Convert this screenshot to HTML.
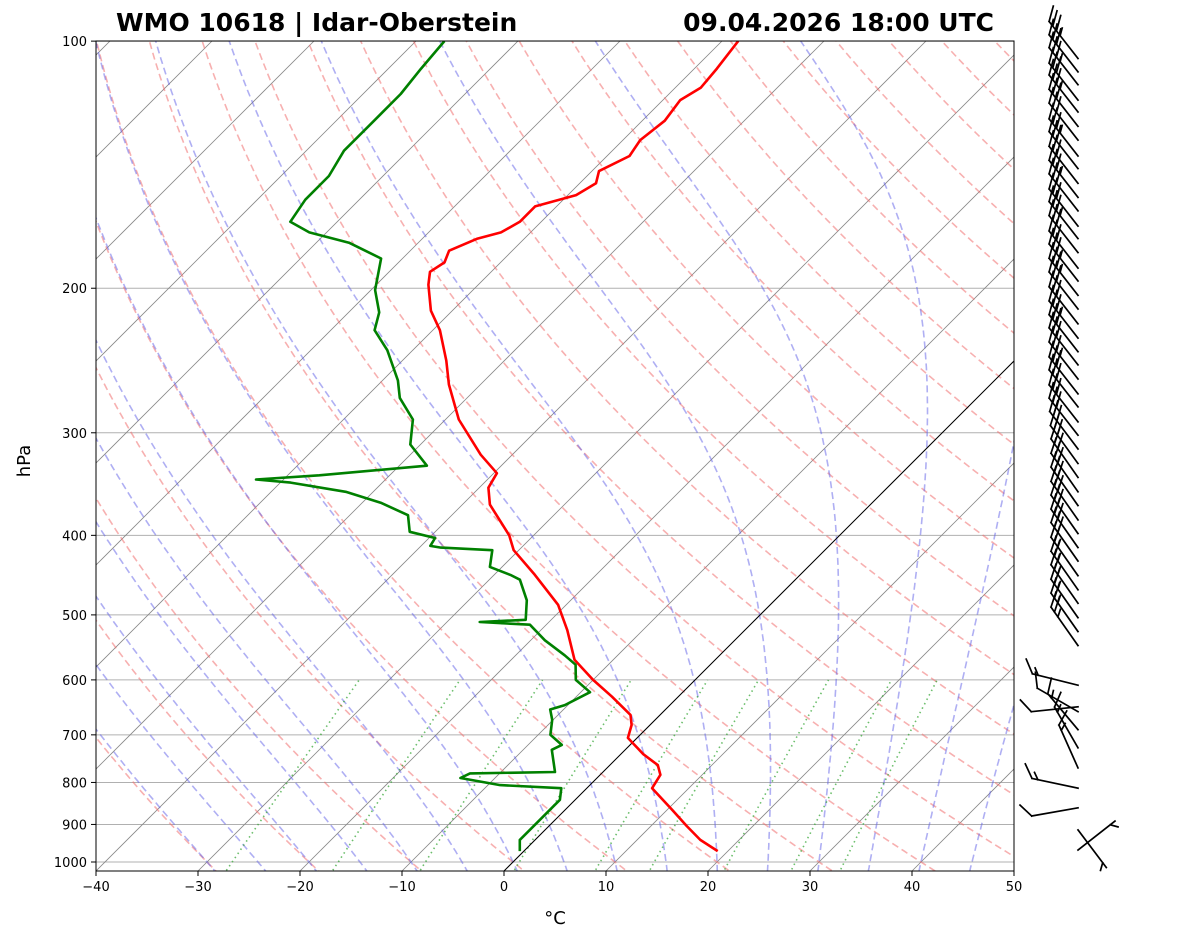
<!DOCTYPE html>
<html><head><meta charset="utf-8">
<style>
html,body{margin:0;padding:0;background:#fff;}
svg{display:block;font-family:"DejaVu Sans","Liberation Sans",sans-serif;}
</style></head>
<body>
<svg id="chart" width="1181" height="941" viewBox="0 0 1181 941" xmlns="http://www.w3.org/2000/svg">
<defs><clipPath id="clip"><rect x="96" y="41" width="918" height="830"/></clipPath></defs>
<rect width="1181" height="941" fill="#fff"/>
<g id="bg" clip-path="url(#clip)"></g>
<g id="data" clip-path="url(#clip)"></g>
<rect x="96" y="41" width="918" height="830" fill="none" stroke="#000" stroke-width="1"/>
<g id="axes"></g>
<g id="barbs" stroke="#000" stroke-width="1.7" fill="none" stroke-linecap="square"></g>
<text x="116" y="31" font-size="25" font-weight="bold">WMO 10618 | Idar-Oberstein</text>
<text x="994" y="31" font-size="25" font-weight="bold" text-anchor="end">09.04.2026 18:00 UTC</text>
<text x="0" y="0" font-size="18" text-anchor="middle" transform="translate(30,461) rotate(-90)">hPa</text>
<text x="555" y="924" font-size="18" text-anchor="middle">°C</text>
</svg>
<script>
const tempP = [970,940,904,864,813,783,762,739,706,681,662,629,600,567,522,486,447,417,400,367,350,336,319,289,262,245,225,213,198,191,186,180,174,171,166,159,154,149,144,138,132,125,118,114,108,100];
const tempT = [19.0,16.2,13.5,10.5,6.4,5.9,4.7,2.2,-0.9,-1.8,-2.9,-6.5,-10,-13.8,-17.4,-20.8,-26,-30.5,-32.4,-37.3,-39.1,-39.7,-43.1,-48.7,-53.1,-55.7,-59.3,-62.1,-64.9,-66,-65.5,-66.2,-64.6,-62.9,-62.1,-62.1,-59.2,-58.4,-59.3,-57.8,-58.3,-57.8,-58.3,-57.5,-57.8,-58.4];
const dewP = [970,940,914,876,840,813,806,790,780,777,730,720,700,671,652,644,621,600,575,560,537,514,510,507,480,453,447,437,417,414,412,403,396,378,365,354,345,342,338,329,310,289,272,259,238,225,214,201,184,176,171,166,156,146,136,125,116,108,100];
const dewT = [-0.4,-1.5,-1.5,-1.5,-1.5,-2.5,-8.8,-13.4,-12.9,-4.7,-7.2,-6.7,-8.8,-10.1,-11.3,-10.3,-9.1,-11.7,-13.2,-15.2,-18.6,-21.6,-26.8,-22.5,-24.3,-27,-28.4,-31.2,-32.6,-37.9,-39.1,-39.4,-42.5,-44.3,-48.2,-52.7,-59,-62.7,-56.9,-47.3,-51,-53.2,-56.6,-58.5,-62.5,-65.7,-67,-69.6,-72.1,-76.8,-81.7,-84.6,-85.3,-85.3,-86.3,-86.3,-86.3,-86.8,-87.2];
const barbP = [105,109,113,118,122,127,132,138,143,149,155,161,168,174,181,189,196,204,212,221,230,239,248,258,269,279,291,302,314,327,340,354,368,383,398,414,430,448,466,484,504,524,545,609,647,656,690,726,768,813,859,914,967];
const barbDir = [322,322,322,322,322,322,322,322,322,322,322,322,322,322,322,322,322,322,322,322,322,322,322,322,322,322,322,322,323,324,325,325,325,325,325,325,325,325,325,325,325,325,325,284,264,300,320,330,336,282,260,143,52];
const barbSpd = [35,30,35,30,35,30,30,35,30,30,35,30,30,35,30,30,35,35,30,30,35,30,30,35,30,30,30,30,30,30,30,30,30,30,30,30,30,25,25,25,25,25,25,15,10,10,15,15,15,15,10,5,5];
const xTicks = [-40,-30,-20,-10,0,10,20,30,40,50];
const pTicks = [1000,900,800,700,600,500,400,300,200,100];

const NS='http://www.w3.org/2000/svg';
function yP(p){return 862+356.5*Math.log(p/1000);}
function xT(T,p){return 96+(T+40)*10.2+(871-yP(p));}
function mk(tag,attrs,parent){const e=document.createElementNS(NS,tag);for(const k in attrs)e.setAttribute(k,attrs[k]);parent.appendChild(e);return e;}
const bg=document.getElementById('bg'),dg=document.getElementById('data'),ax=document.getElementById('axes'),bb=document.getElementById('barbs');
function pathFrom(pts){return pts.map((q,i)=>(i?'L':'M')+q[0].toFixed(1)+' '+q[1].toFixed(1)).join(' ');}
const levels=[];for(let p=1060;p>=95;p-=5)levels.push(p);

pTicks.forEach(p=>{
  const l=mk('line',{x1:96,x2:1014,y1:yP(p),y2:yP(p),stroke:'#b0b0b0','stroke-width':1},bg);
  
  
});
for(let T=-150;T<=50;T+=10){
  const l=mk('line',{x1:xT(T,1060),y1:yP(1060),x2:xT(T,95),y2:yP(95),stroke:'#888','stroke-width':0.8},bg);
  
  
}
for(let t0=-30;t0<=190;t0+=10){
  const th=t0+273.15;
  const pts=levels.map(p=>[xT(th*Math.pow(p/1000,0.2857)-273.15,p),yP(p)]);
  const e=mk('path',{d:pathFrom(pts),fill:'none',stroke:'#f07070','stroke-opacity':0.55,'stroke-width':1.6,'stroke-dasharray':'7,4'},bg);
  
  
}
function es(T){return 6.112*Math.exp(17.67*T/(T+243.5));}
function dTdp(Tk,p){const Rd=287.04,Lv=2.501e6,cp=1005.7,eps=0.622;const rs=eps*es(Tk-273.15)/(p-es(Tk-273.15));
  return (Rd*Tk+Lv*rs)/(cp+Lv*Lv*rs*eps/(Rd*Tk*Tk))/p;}
function moist(t0){
  const up=[],dn=[];let T=t0+273.15;
  for(let p=1000;p>=95;p-=1){if(p%5===0)up.push([p,T]);const k1=dTdp(T,p),k2=dTdp(T-0.5*k1,p-0.5);T-=k2;}
  T=t0+273.15;
  for(let p=1000;p<=1060;p+=1){if(p%5===0)dn.push([p,T]);const k1=dTdp(T,p),k2=dTdp(T+0.5*k1,p+0.5);T+=k2;}
  return dn.reverse().concat(up.slice(1));
}
for(let t0=-30;t0<=50;t0+=5){
  const pts=moist(t0).map(a=>[xT(a[1]-273.15,a[0]),yP(a[0])]);
  const e=mk('path',{d:pathFrom(pts),fill:'none',stroke:'#6060e8','stroke-opacity':0.5,'stroke-width':1.6,'stroke-dasharray':'7,4'},bg);
  
  
}
[0.0004,0.001,0.002,0.004,0.007,0.01,0.016,0.024,0.032].forEach(w=>{
  const pts=[];for(let p=1060;p>=600;p-=10){const e=p*w/(0.622+w);const L=Math.log(e/6.112);pts.push([xT(243.5*L/(17.67-L),p),yP(p)]);}
  const e=mk('path',{d:pathFrom(pts),fill:'none',stroke:'#3aa83a','stroke-opacity':0.75,'stroke-width':1.6,'stroke-dasharray':'1.5,3.5'},bg);
  
  
});
const z=mk('line',{x1:xT(0,1060),y1:yP(1060),x2:xT(0,95),y2:yP(95),stroke:'#000','stroke-width':1},bg);



const tl=mk('path',{d:pathFrom(tempP.map((p,i)=>[xT(tempT[i],p),yP(p)])),fill:'none',stroke:'#f00','stroke-width':2.6,'stroke-linejoin':'round'},dg);


const dl=mk('path',{d:pathFrom(dewP.map((p,i)=>[xT(dewT[i],p),yP(p)])),fill:'none',stroke:'#008000','stroke-width':2.6,'stroke-linejoin':'round'},dg);



xTicks.forEach(T=>{
  const x=96+(T+40)*10.2;
  const t=mk('line',{x1:x,x2:x,y1:871,y2:876,stroke:'#000','stroke-width':1},ax);
  
  
  const s=mk('text',{x:x,y:891,'font-size':13,'text-anchor':'middle'},ax);
  s.textContent=(T<0?'\u2212'+(-T):T);
  
  
});
pTicks.forEach(p=>{
  const y=yP(p);
  const t=mk('line',{x1:91,x2:96,y1:y,y2:y,stroke:'#000','stroke-width':1},ax);
  
  
  const s=mk('text',{x:87,y:y+5,'font-size':13,'text-anchor':'end'},ax);
  s.textContent=p;
  
  
});

barbP.forEach((p,i)=>{
  const bx=1078,by=yP(p);
  const a=barbDir[i]*Math.PI/180;const dx=Math.sin(a),dy=-Math.cos(a);
  const L=47,tx=bx+dx*L,ty=by+dy*L;
  const px=-dy,py=dx;
  const kx=0.8*px+0.6*dx,ky=0.8*py+0.6*dy;
  const H=16,S=6;
  let d='M'+bx.toFixed(1)+' '+by.toFixed(1)+' L'+tx.toFixed(1)+' '+ty.toFixed(1);
  let s=barbSpd[i],pos=0;
  while(s>=10){const qx=tx-dx*pos,qy=ty-dy*pos;d+=' M'+qx.toFixed(1)+' '+qy.toFixed(1)+' l'+(kx*H).toFixed(1)+' '+(ky*H).toFixed(1);pos+=S;s-=10;}
  if(s>=5){if(pos===0)pos=S;const qx=tx-dx*pos,qy=ty-dy*pos;d+=' M'+qx.toFixed(1)+' '+qy.toFixed(1)+' l'+(kx*H/2).toFixed(1)+' '+(ky*H/2).toFixed(1);}
  const e=mk('path',{d:d},bb);
  
  
});
</script>
</body></html>
